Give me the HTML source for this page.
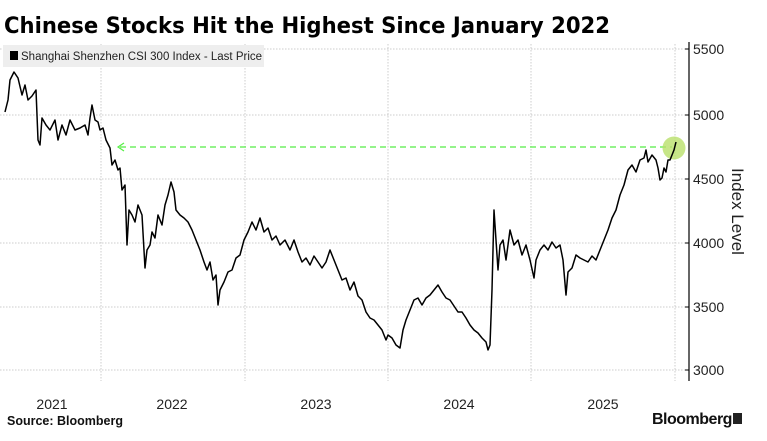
<!DOCTYPE html><html><head><style>body{margin:0;background:#fff}svg{display:block;font-family:"Liberation Sans",sans-serif}</style></head><body>
<svg width="767" height="441" viewBox="0 0 767 441">
<text x="4" y="33" font-size="22" font-weight="bold" fill="#000" font-family="DejaVu Sans, sans-serif" textLength="606" lengthAdjust="spacingAndGlyphs">Chinese Stocks Hit the Highest Since January 2022</text>
<g stroke="#ccc" stroke-dasharray="1.5,1.5" stroke-width="1">
<line x1="0" y1="49" x2="689" y2="49"/><line x1="0" y1="115" x2="689" y2="115"/><line x1="0" y1="179" x2="689" y2="179"/><line x1="0" y1="243" x2="689" y2="243"/><line x1="0" y1="307" x2="689" y2="307"/><line x1="0" y1="370" x2="689" y2="370"/>
<line x1="101" y1="44" x2="101" y2="381"/><line x1="245" y1="44" x2="245" y2="381"/><line x1="388" y1="44" x2="388" y2="381"/><line x1="531" y1="44" x2="531" y2="381"/><line x1="675" y1="44" x2="675" y2="381"/>
</g>
<rect x="3" y="45" width="261" height="22" fill="#eee"/>
<rect x="10" y="51" width="8" height="9" fill="#000"/>
<text x="21" y="60" font-size="11.5" fill="#222">Shanghai Shenzhen CSI 300 Index - Last Price</text>
<line x1="689" y1="42" x2="689" y2="381" stroke="#000" stroke-width="1.2"/>
<g stroke="#000"><line x1="685" y1="49" x2="689" y2="49"/><line x1="685" y1="115" x2="689" y2="115"/><line x1="685" y1="179" x2="689" y2="179"/><line x1="685" y1="243" x2="689" y2="243"/><line x1="685" y1="307" x2="689" y2="307"/><line x1="685" y1="370" x2="689" y2="370"/></g>
<g font-size="14" fill="#222"><text x="693" y="54">5500</text><text x="693" y="120">5000</text><text x="693" y="184">4500</text><text x="693" y="248">4000</text><text x="693" y="312">3500</text><text x="693" y="375">3000</text></g>
<text transform="translate(732,168) rotate(90)" font-size="17" fill="#222">Index Level</text>
<g font-size="14" fill="#222" text-anchor="middle"><text x="52" y="409">2021</text><text x="172" y="409">2022</text><text x="316" y="409">2023</text><text x="459" y="409">2024</text><text x="603" y="409">2025</text></g>
<text x="7" y="425" font-size="12.5" font-weight="bold" fill="#111">Source: Bloomberg</text>
<text x="652" y="424" font-size="16" font-weight="bold" fill="#111" letter-spacing="-0.5">Bloomberg</text>
<rect x="733" y="413" width="9" height="11" fill="#222"/>
<line x1="120" y1="147" x2="672" y2="147" stroke="#55ee44" stroke-width="1.2" stroke-dasharray="6,4"/>
<polyline points="124,143 118,147 124,151" fill="none" stroke="#55ee44" stroke-width="1.2"/>
<circle cx="674" cy="148" r="11.5" fill="#b9e06a" opacity="0.8"/>
<polyline fill="none" stroke="#000" stroke-width="1.5" stroke-linejoin="round" points="5,112 8,100 10,80 14,72 18,78 22,95 25,85 28,100 32,96 36,90 38,140 40,145 42,118 46,125 50,130 55,120 58,140 62,125 66,135 70,120 75,130 80,128 85,125 88,135 90,118 92,105 95,120 98,122 100,130 103,128 106,140 110,148 112,165 115,160 118,170 120,168 122,190 125,185 127,245 129,210 132,215 135,222 138,205 142,215 145,268 147,250 150,245 152,232 155,238 158,215 162,225 165,205 168,195 171,182 174,192 176,210 180,215 184,218 188,222 192,230 196,240 200,250 204,262 207,270 210,262 213,280 216,275 218,305 220,290 224,282 228,272 232,270 236,258 240,255 244,240 248,232 252,222 256,230 260,218 264,232 268,228 272,240 276,236 280,245 285,240 290,250 294,240 298,252 302,262 306,258 310,265 314,256 318,262 322,268 326,262 330,250 334,260 338,270 342,280 346,278 350,290 354,282 358,296 362,300 366,312 370,318 374,320 378,325 382,330 386,340 388,335 392,338 396,345 400,348 403,330 406,320 410,310 414,300 418,298 422,305 426,298 430,295 434,290 438,285 442,292 446,298 450,300 454,306 458,312 462,312 466,318 470,325 474,330 478,333 482,338 486,342 488,350 490,345 492,290 494,210 496,240 498,270 500,245 503,240 506,260 510,230 514,245 518,240 522,255 526,245 530,260 534,278 536,260 540,250 544,245 548,250 552,242 556,248 560,245 563,260 566,295 568,272 572,268 576,255 580,258 584,260 588,262 592,256 596,260 600,250 604,240 608,230 612,218 616,210 620,195 624,185 628,170 632,165 636,172 640,160 644,158 646,150 648,162 652,155 656,160 658,168 660,180 662,178 664,168 666,172 668,160 670,160 672,155 674,150 676,142"/>
</svg>
</body></html>
